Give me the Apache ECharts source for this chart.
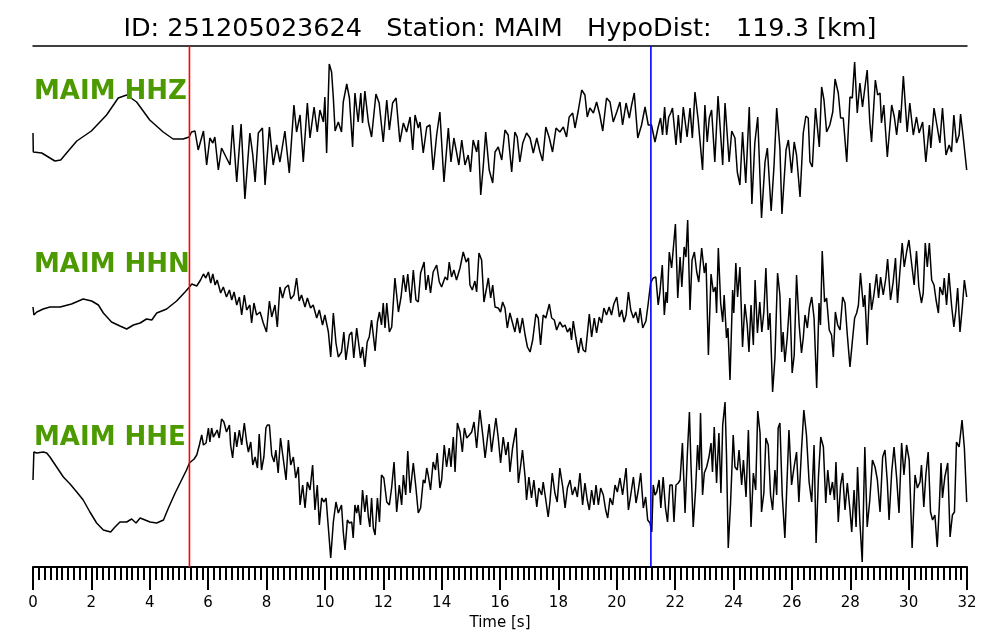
<!DOCTYPE html>
<html>
<head>
<meta charset="utf-8">
<script src="https://cdn.jsdelivr.net/npm/echarts@6/dist/echarts.min.js"></script>
<style>
html,body{margin:0;padding:0;background:#fff;}
#chart{width:1000px;height:640px;}
</style>
</head>
<body>
<div id="chart"></div>
<script>
// ---- data: [time (s), relative amplitude] ----
const titleText = 'ID: 251205023624   Station: MAIM   HypoDist:   119.3 [km]';
const channelNames = ['MAIM HHZ', 'MAIM HHN', 'MAIM HHE'];
const pPick = 5.36;   // red marker (s)
const sPick = 21.17;  // blue marker (s)
const traceOffsets = [427, 254, 81];
const yRange = [0, 521];

const traceZ = [[0,7],[0.01,-12],[0.3,-13],[0.75,-21],[0.95,-20],[1.15,-13],[1.5,-1],[2.0,9],[2.52,25],[2.92,42],[3.21,45],[3.55,38],[4.0,20],[4.46,8],[4.8,1],[5.14,1],[5.35,3],[5.43,8],[5.55,9],[5.66,-10],[5.84,9],[5.95,-25],[6.06,2],[6.16,-3],[6.23,3],[6.35,-30],[6.46,-8],[6.63,-18],[6.75,-25],[6.84,15],[6.98,-42],[7.13,16],[7.26,-59],[7.43,7],[7.53,-15],[7.61,-42],[7.72,7],[7.86,12],[7.95,-45],[8.10,13],[8.23,-25],[8.35,-5],[8.46,-22],[8.63,9],[8.78,-33],[8.94,35],[9.03,8],[9.15,25],[9.26,-22],[9.40,37],[9.49,2],[9.63,33],[9.74,8],[9.83,30],[9.95,18],[10.00,43],[10.06,-13],[10.15,76],[10.23,68],[10.29,42],[10.35,9],[10.46,18],[10.57,8],
[10.63,38],[10.75,56],[10.84,42],[10.95,-7],[11.03,47],[11.14,18],[11.23,47],[11.29,17],[11.37,49],[11.49,18],[11.60,3],[11.75,46],[11.86,37],[12.00,-2],[12.12,40],[12.21,10],[12.32,37],[12.44,42],[12.57,-2],[12.69,17],[12.80,8],[12.92,23],[13.01,-10],[13.09,25],[13.20,12],[13.26,18],[13.37,-13],[13.49,13],[13.60,15],[13.71,-30],[13.83,5],[13.94,28],[14.08,-42],[14.23,12],[14.32,-22],[14.42,2],[14.51,-12],[14.59,-25],[14.69,0],[14.80,-25],[14.91,-15],[14.99,-32],[15.08,0],[15.20,-12],[15.26,0],[15.34,-55],[15.43,-25],[15.51,8],[15.63,-30],[15.75,-43],[15.83,-12],[15.94,-7],[16.06,-20],[16.17,10],[16.28,5],[16.40,-32],[16.51,8],[16.59,3],[16.68,-22],[16.78,-3],[16.91,7],[17.03,2],[17.14,-13],[17.26,2],[17.37,-12],[17.46,-21],[17.57,13],[17.69,2],[17.80,-12],[17.92,12],[18.05,8],[18.17,13],[18.28,3],[18.37,23],[18.49,27],[18.57,12],[18.68,29],[18.80,50],[18.91,45],[18.99,23],[19.08,32],[19.20,27],[19.31,38],[19.42,25],[19.52,9],[19.65,42],[19.77,38],[19.88,18],[20.00,28],[20.11,38],[20.20,15],[20.32,37],[20.43,22],[20.51,35],[20.60,47],[20.72,2],[20.85,15],[20.97,33],[21.08,15],[21.19,15],[21.31,-2],
[21.42,13],[21.50,22],[21.57,5],[21.64,33],[21.71,5],[21.78,23],[21.85,27],[21.91,32],[22.03,-5],[22.11,25],[22.19,-3],[22.28,33],[22.34,32],[22.41,3],[22.51,32],[22.59,2],[22.68,48],[22.79,20],[22.85,18],[22.94,-30],[23.02,35],[23.10,-2],[23.17,22],[23.25,30],[23.36,-22],[23.47,44],[23.63,-25],[23.71,37],[23.85,-22],[23.94,9],[24.05,2],[24.13,-32],[24.22,-45],[24.31,8],[24.42,-43],[24.54,33],[24.63,-64],[24.73,-3],[24.83,23],[24.96,-78],[25.08,-22],[25.16,-8],[25.29,-71],[25.39,-25],[25.48,32],[25.59,-8],[25.66,-74],[25.80,-10],[25.88,0],[25.99,-33],[26.08,-2],[26.16,-15],[26.28,-57],[26.39,7],[26.48,24],[26.56,22],[26.62,-22],[26.70,-27],[26.81,32],[26.87,33],[26.94,-7],[27.02,53],[27.10,40],[27.19,8],[27.30,15],[27.40,28],[27.48,61],[27.59,47],[27.67,22],[27.76,22],[27.88,-22],[27.99,43],[28.07,42],[28.15,78],[28.24,27],[28.33,57],[28.42,33],[28.50,52],[28.58,70],[28.67,18],[28.73,-2],[28.86,60],[28.94,45],[29.02,47],[29.07,17],[29.15,35],[29.27,-17],[29.42,35],[29.51,23],[29.59,5],[29.68,30],[29.72,17],[29.82,64],[29.95,8],[30.04,37],[30.16,5],[30.27,23],[30.36,7],[30.48,18],[30.59,-22],[30.71,15],[30.76,-8],[30.87,32],[30.98,13],[31.07,-3],[31.16,32],[31.28,-15],[31.39,-5],[31.47,-12],[31.55,25],[31.64,-3],[31.73,5],[31.78,26],[31.87,3],[31.99,-30]];

const traceN = [[0,6],[0.03,-2],[0.13,1],[0.35,4],[0.58,6],[0.93,6],[1.32,9],[1.72,14],[2.01,12],[2.24,8],[2.41,0],[2.69,-9],[2.98,-13],[3.21,-16],[3.44,-12],[3.67,-10],[3.89,-6],[4.07,-7],[4.24,0],[4.58,4],[4.92,12],[5.21,21],[5.36,26],[5.44,29],[5.61,27],[5.74,33],[5.84,39],[5.92,35],[6.01,41],[6.09,30],[6.16,39],[6.24,28],[6.31,33],[6.43,20],[6.52,26],[6.63,16],[6.73,23],[6.81,13],[6.89,21],[6.98,8],[7.07,16],[7.15,-2],[7.24,18],[7.32,3],[7.43,8],[7.49,-10],[7.57,10],[7.66,-2],[7.78,1],[7.89,-10],[8.00,-19],[8.10,12],[8.18,-4],[8.29,8],[8.37,-14],[8.46,26],[8.55,15],[8.64,25],[8.75,28],[8.83,14],[8.94,18],[9.03,35],[9.12,12],[9.20,18],[9.32,6],[9.40,15],[9.51,5],[9.60,8],[9.72,-5],[9.81,3],[9.92,-12],[10.00,-2],[10.12,-19],[10.20,-44],[10.29,0],[10.38,-30],[10.46,-44],
[10.57,-39],[10.65,-19],[10.72,-47],[10.84,-22],[10.92,-19],[10.99,-45],[11.09,-15],[11.14,-17],[11.22,-45],[11.29,-34],[11.37,-54],[11.45,-29],[11.52,-24],[11.60,-7],[11.72,-38],[11.80,-9],[11.87,1],[11.94,-12],[12.00,10],[12.06,-15],[12.12,10],[12.21,-19],[12.29,-14],[12.40,35],[12.52,1],[12.61,16],[12.69,38],[12.77,21],[12.84,39],[12.94,10],[13.03,43],[13.12,13],[13.20,11],[13.28,40],[13.40,51],[13.46,23],[13.54,38],[13.62,20],[13.71,41],[13.83,48],[13.92,31],[14.00,26],[14.12,36],[14.20,33],[14.26,51],[14.34,36],[14.42,43],[14.51,33],[14.63,45],[14.74,61],[14.84,51],[14.92,55],[14.97,28],[15.05,23],[15.14,32],[15.20,21],[15.28,60],[15.37,53],[15.45,11],[15.54,25],[15.60,35],[15.68,15],[15.75,28],[15.83,6],[15.94,5],[16.02,1],[16.09,11],[16.17,5],[16.25,-15],[16.34,0],[16.43,-10],[16.51,-19],[16.59,-5],[16.68,-20],[16.77,-5],[16.86,-22],[16.94,-34],[17.03,-39],[17.12,-27],[17.23,-1],[17.31,-5],[17.39,-32],[17.48,-2],[17.57,-5],[17.69,9],[17.77,-5],[17.86,-7],[17.94,-17],[18.05,-9],[18.15,-14],[18.23,-12],[18.31,-19],[18.40,-15],[18.45,-27],[18.51,-8],[18.60,-25],[18.69,-40],[18.77,-25],[18.85,-37],[18.93,-39],[19.06,-1],[19.14,-24],[19.23,-5],[19.31,-20],[19.40,-4],[19.48,-10],[19.56,5],[19.65,-2],[19.74,6],[19.82,-2],[19.90,9],[20.00,16],[20.09,-4],[20.17,3],[20.25,-9],[20.32,-2],[20.40,21],[20.48,3],[20.57,-5],[20.65,1],[20.74,-10],[20.80,5],[20.89,-15],[21.00,-8],[21.08,10],[21.16,30],[21.25,35],
[21.34,36],[21.42,8],[21.48,21],[21.56,48],[21.63,-2],[21.69,21],[21.73,10],[21.80,61],[21.88,45],[21.94,43],[22.01,89],[22.09,15],[22.17,56],[22.23,26],[22.31,66],[22.37,56],[22.43,93],[22.51,3],[22.58,53],[22.66,61],[22.74,41],[22.81,31],[22.91,65],[23.00,40],[23.06,50],[23.14,-42],[23.23,39],[23.31,21],[23.38,26],[23.42,0],[23.48,65],[23.56,10],[23.63,-9],[23.68,18],[23.76,-25],[23.81,-15],[23.88,-67],[23.97,23],[24.01,0],[24.08,50],[24.14,16],[24.22,46],[24.31,-34],[24.39,9],[24.47,-12],[24.53,-39],[24.60,8],[24.68,-32],[24.74,33],[24.82,-20],[24.90,11],[24.97,-19],[25.04,1],[25.11,45],[25.19,-17],[25.25,0],[25.34,-79],[25.42,-45],[25.51,40],[25.59,18],[25.65,-39],[25.70,-19],[25.76,-49],[25.84,-25],[25.93,15],[26.01,-60],[26.08,-42],[26.16,38],[26.25,-12],[26.33,-40],[26.39,-25],[26.45,-2],[26.53,-15],[26.60,5],[26.68,16],[26.76,-5],[26.85,-75],[26.93,10],[26.98,-12],[27.04,62],[27.12,11],[27.19,15],[27.28,-17],[27.36,-22],[27.42,-44],[27.49,1],[27.57,-12],[27.65,-17],[27.74,16],[27.82,10],[27.90,-22],[27.99,-54],[28.07,-29],[28.15,-5],[28.22,0],[28.28,8],[28.35,40],[28.45,6],[28.50,18],[28.58,-32],[28.67,30],[28.73,3],[28.81,18],[28.90,39],[28.97,15],[29.04,36],[29.13,18],[29.22,35],[29.28,54],[29.38,13],[29.47,31],[29.55,55],[29.62,10],[29.70,41],[29.78,70],[29.85,46],[29.93,61],[30.01,73],[30.10,50],[30.19,28],[30.27,62],[30.35,26],[30.44,10],[30.50,20],[30.57,70],[30.64,46],[30.71,70],[30.79,33],[30.87,28],[30.94,13],[31.02,0],[31.07,26],[31.17,18],[31.22,35],[31.30,8],[31.38,40],[31.47,8],[31.55,-14],[31.62,3],[31.68,25],[31.76,-19],[31.84,6],[31.91,33],[31.99,16]];

const traceE = [[0,6],[0.03,34],[0.13,33],[0.35,34],[0.47,33],[0.58,29],[0.81,19],[1.04,9],[1.27,2],[1.50,-6],[1.72,-14],[1.95,-26],[2.18,-37],[2.41,-44],[2.66,-46],[2.81,-41],[2.98,-36],[3.21,-36],[3.38,-33],[3.53,-37],[3.67,-32],[3.84,-34],[4.01,-36],[4.24,-37],[4.47,-34],[4.64,-22],[4.87,-7],[5.09,6],[5.26,16],[5.36,23],[5.44,25],[5.52,27],[5.61,31],[5.70,41],[5.78,51],[5.84,41],[5.93,43],[6.01,58],[6.06,44],[6.12,58],[6.18,49],[6.26,53],[6.31,56],[6.38,48],[6.46,67],[6.54,64],[6.63,54],[6.73,61],[6.77,41],[6.84,28],[6.92,54],[6.98,39],[7.07,56],[7.15,41],[7.24,63],[7.32,44],[7.38,34],[7.46,44],[7.53,21],[7.61,29],[7.69,18],[7.75,52],[7.83,16],[7.91,29],[7.98,58],[8.03,61],[8.10,61],[8.18,31],[8.26,24],[8.32,36],[8.40,13],[8.48,48],[8.58,26],[8.67,6],[8.75,46],[8.83,21],[8.92,29],[9.00,8],[9.09,19],[9.15,-19],[9.24,1],[9.32,-22],[9.40,4],[9.49,-4],[9.58,21],[9.66,-24],[9.74,1],[9.81,-39],[9.89,-12],[9.97,-16],[10.04,-12],[10.12,-42],[10.20,-72],[10.29,-36],[10.38,-16],[10.46,-27],
[10.57,-19],[10.63,-46],[10.69,-64],[10.77,-34],[10.84,-37],[10.92,-36],[10.97,-52],[11.03,-19],[11.09,-27],[11.14,-19],[11.22,-39],[11.29,-4],[11.37,-26],[11.43,-9],[11.49,-31],[11.54,-41],[11.60,-12],[11.66,-42],[11.72,-49],[11.80,-12],[11.87,-36],[11.94,11],[12.02,8],[12.12,-16],[12.21,-19],[12.29,-1],[12.37,24],[12.46,-26],[12.55,1],[12.63,-19],[12.69,11],[12.77,-9],[12.84,35],[12.92,-7],[13.03,23],[13.12,-2],[13.20,-27],[13.28,-22],[13.37,6],[13.43,3],[13.49,18],[13.54,11],[13.62,-4],[13.71,24],[13.79,16],[13.85,33],[13.94,-2],[14.00,6],[14.09,41],[14.17,19],[14.26,38],[14.32,19],[14.40,49],[14.46,14],[14.54,63],[14.63,54],[14.71,34],[14.78,58],[14.86,48],[14.95,51],[15.03,54],[15.11,64],[15.20,38],[15.31,76],[15.41,51],[15.49,28],[15.57,48],[15.63,62],[15.71,34],[15.77,48],[15.86,68],[15.94,48],[16.02,23],[16.11,49],[16.20,31],[16.28,44],[16.34,14],[16.43,38],[16.55,58],[16.63,3],[16.71,21],[16.77,36],[16.86,9],[16.91,-14],[16.99,9],[17.08,-12],[17.16,6],[17.26,-21],[17.33,-2],[17.43,-9],[17.48,4],[17.56,-12],[17.65,-31],[17.71,-16],[17.79,13],[17.88,-7],[17.96,-16],[18.05,18],[18.15,-1],[18.23,-22],[18.31,-2],[18.40,6],[18.48,-9],[18.57,-1],[18.65,-11],[18.74,13],[18.83,-19],[18.91,3],[18.99,-14],[19.06,-24],[19.14,-4],[19.22,-19],[19.29,1],[19.37,-19],[19.45,-2],[19.54,-9],[19.62,-24],[19.69,-32],[19.77,-12],[19.86,-19],[19.94,1],[20.02,-6],[20.11,8],[20.20,-9],[20.32,18],[20.40,-24],[20.48,-9],[20.57,9],[20.66,-17],[20.74,-4],[20.82,13],[20.91,-22],[20.99,-11],[21.06,-34],[21.14,-37],[21.20,-46],
[21.25,1],[21.31,-9],[21.37,-6],[21.45,6],[21.51,-22],[21.59,9],[21.67,-22],[21.74,-36],[21.82,1],[21.90,1],[21.96,-36],[22.03,1],[22.11,3],[22.17,6],[22.25,43],[22.34,-27],[22.42,33],[22.49,74],[22.54,24],[22.62,-41],[22.70,-4],[22.77,41],[22.83,16],[22.87,73],[22.94,-9],[23.00,13],[23.08,19],[23.16,29],[23.23,43],[23.28,14],[23.34,59],[23.42,3],[23.50,53],[23.57,-7],[23.63,61],[23.71,84],[23.76,31],[23.82,-62],[23.90,-17],[23.99,51],[24.05,19],[24.13,16],[24.19,36],[24.28,1],[24.34,26],[24.43,-11],[24.51,56],[24.60,-41],[24.68,13],[24.76,-4],[24.83,75],[24.91,53],[24.96,-26],[25.04,-7],[25.11,48],[25.19,41],[25.27,-9],[25.34,-24],[25.42,16],[25.48,-9],[25.53,58],[25.59,63],[25.67,-9],[25.76,-52],[25.82,-6],[25.90,56],[25.99,1],[26.07,18],[26.16,34],[26.24,-16],[26.33,36],[26.41,76],[26.50,51],[26.59,4],[26.68,-16],[26.76,41],[26.83,-57],[26.91,9],[26.99,49],[27.08,39],[27.16,-17],[27.23,16],[27.31,-9],[27.39,4],[27.46,-14],[27.51,24],[27.59,-36],[27.67,1],[27.74,13],[27.82,-24],[27.90,3],[27.99,-24],[28.05,-46],[28.13,-4],[28.20,-41],[28.25,19],[28.33,-36],[28.41,-76],[28.50,39],[28.58,-41],[28.67,-14],[28.76,26],[28.85,19],[28.93,6],[29.02,-26],[29.11,29],[29.19,36],[29.27,4],[29.33,-34],[29.42,14],[29.50,39],[29.59,8],[29.67,-27],[29.76,43],[29.84,11],[29.93,41],[30.02,26],[30.12,-62],[30.22,11],[30.30,-2],[30.39,4],[30.44,21],[30.52,-21],[30.59,11],[30.67,34],[30.75,-26],[30.82,-34],[30.90,-29],[30.98,-61],[31.05,-21],[31.11,23],[31.16,-12],[31.24,9],[31.34,23],[31.42,-51],[31.50,-29],[31.57,-26],[31.64,44],[31.73,39],[31.83,66],[31.91,38],[31.99,-16]];

const traces = [traceZ, traceN, traceE];

// ---- chart ----
const chart = echarts.init(document.getElementById('chart'), null, {renderer: 'canvas'});
const FONT = 'DejaVu Sans';

const series = traces.map((tr, i) => ({
  type: 'line',
  xAxisIndex: 0,
  yAxisIndex: 0,
  data: tr.map(p => [p[0], traceOffsets[i] + p[1]]),
  showSymbol: false,
  symbol: 'none',
  smooth: false,
  sampling: null,
  silent: true,
  lineStyle: {color: '#000', width: 1.5},
  z: 3
}));

// vertical pick markers, drawn through the axes
[[pPick, '#ff0000'], [sPick, '#0000ff']].forEach(([t, col]) => {
  series.push({
    type: 'line',
    data: [[t, yRange[0]], [t, yRange[1]]],
    showSymbol: false,
    symbol: 'none',
    silent: true,
    color: col,
    lineStyle: {color: col, width: 1.6},
    z: 4
  });
});

const labelTops = [79, 252, 425];

chart.setOption({
  animation: false,
  backgroundColor: '#fff',
  title: {
    text: titleText,
    left: 'center',
    top: 11,
    textStyle: {fontFamily: FONT, fontSize: 25.5, fontWeight: 'normal', color: '#000'}
  },
  grid: {left: 33, right: 33, top: 46, bottom: 73, containLabel: false},
  xAxis: [
    {
      type: 'value', min: 0, max: 32, interval: 2, position: 'bottom',
      name: 'Time [s]', nameLocation: 'middle', nameGap: 46,
      nameTextStyle: {fontFamily: FONT, fontSize: 15, color: '#000'},
      axisLine: {show: true, onZero: false, lineStyle: {color: '#000', width: 2}},
      axisTick: {show: true, inside: false, length: 23, lineStyle: {color: '#000', width: 2}},
      minorTick: {show: true, splitNumber: 10, length: 13, lineStyle: {color: '#000', width: 2}},
      axisLabel: {fontFamily: FONT, fontSize: 15, color: '#000', margin: 29},
      splitLine: {show: false}, minorSplitLine: {show: false}
    },
    {
      type: 'value', min: 0, max: 32, position: 'top',
      axisLine: {show: true, onZero: false, lineStyle: {color: '#000', width: 1.5}},
      axisTick: {show: false}, axisLabel: {show: false}, splitLine: {show: false}
    }
  ],
  yAxis: {type: 'value', min: yRange[0], max: yRange[1], show: false},
  graphic: channelNames.map((name, i) => ({
    type: 'text',
    left: 34,
    top: labelTops[i],
    z: 10,
    style: {
      text: name,
      fill: '#4c9900',
      font: 'bold 26px "DejaVu Sans"'
    }
  })),
  series: series
});
</script>
</body>
</html>
